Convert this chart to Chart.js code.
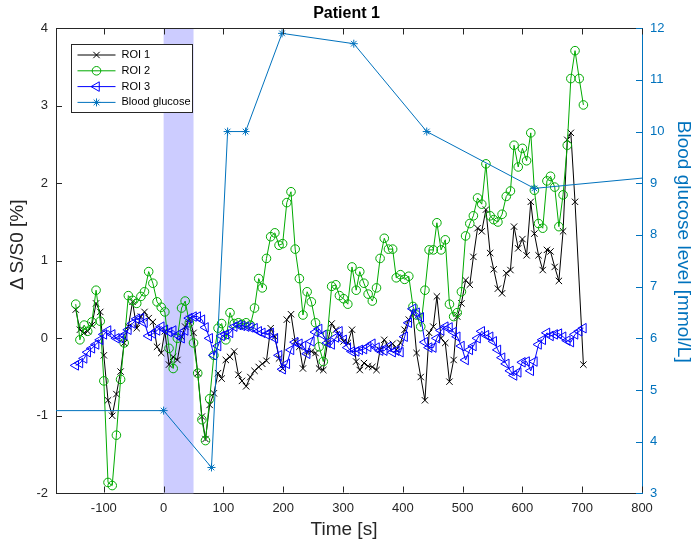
<!DOCTYPE html>
<html><head><meta charset="utf-8">
<script src="https://cdn.jsdelivr.net/npm/chart.js@4.4.1/dist/chart.umd.min.js"></script>
<style>html,body{margin:0;padding:0;background:#fff}</style>
</head><body>
<canvas id="c" width="693" height="548" style="width:693px;height:548px;display:block"></canvas>
<script>
// ---- data ----
const timeS = [-147,-140,-133,-127,-120,-113,-106,-100,-93,-86,
 -79,-72,-66,-59,-52,-45,-38,-32,-25,-18,
 -11,-4,2,9,16,23,30,36,43,50,
 57,64,70,77,84,91,97,104,111,118,
 125,131,138,145,152,159,165,172,179,186,
 193,199,206,213,220,227,233,240,247,254,
 260,267,274,281,288,294,301,308,315,322,
 328,335,342,349,356,362,369,376,383,389,
 396,403,410,417,423,430,437,444,451,457,
 464,471,478,485,491,498,505,512,518,525,
 532,539,546,552,559,566,573,580,586,593,
 600,607,614,620,627,634,641,647,654,661,
 668,675,681,688,695,702];
const roi1 = [0.37,0.11,0.07,0.09,0.17,0.45,0.34,-0.22,-0.80,-1.00,
 -0.72,-0.43,-0.06,0.15,0.47,0.13,0.28,0.34,0.26,0.21,
 -0.11,-0.19,0.09,-0.34,-0.24,-0.28,0.02,0.15,0.25,0.07,
 -0.45,-1.01,-1.30,-0.86,-0.71,-0.45,-0.52,-0.28,-0.24,-0.17,
 -0.47,-0.55,-0.62,-0.50,-0.42,-0.37,-0.33,-0.29,0.13,0.02,
 -0.26,-0.39,0.24,0.31,-0.04,-0.11,-0.39,-0.17,-0.17,-0.19,
 -0.39,-0.41,-0.06,0.19,0.11,0.04,-0.04,-0.06,0.11,-0.30,
 -0.41,-0.32,-0.36,-0.37,-0.41,-0.15,-0.02,-0.11,-0.07,-0.15,
 -0.06,0.11,0.24,0.32,-0.19,-0.50,-0.80,0.07,0.15,0.54,
 0.00,-0.06,-0.56,-0.28,0.28,0.45,0.75,0.69,1.05,1.42,
 1.38,1.66,1.10,0.89,0.64,0.58,0.84,0.88,1.44,1.16,
 1.28,1.07,1.76,1.35,1.07,0.88,1.14,1.12,0.92,0.74,
 1.38,2.56,2.65,1.76,null,-0.34];
const roi2 = [0.44,-0.02,0.17,0.09,0.21,0.62,0.22,-0.55,-1.86,-1.90,
 -1.25,-0.53,-0.06,0.55,0.49,0.45,0.54,0.60,0.86,0.71,
 0.47,0.40,0.34,-0.13,-0.39,0.00,0.39,0.48,0.20,-0.06,
 -0.45,-1.05,-1.32,-0.78,-0.22,0.13,0.19,-0.02,0.33,0.19,
 0.20,0.18,0.20,0.17,0.39,0.77,0.65,1.03,1.31,1.36,
 1.20,1.22,1.75,1.89,1.15,0.77,0.30,0.60,0.47,0.20,
 -0.11,-0.30,0.05,0.67,0.69,0.55,0.51,0.44,0.92,0.62,
 0.86,0.71,0.57,0.48,0.65,1.03,1.29,1.15,1.15,0.78,
 0.82,0.76,0.80,0.41,0.30,0.15,0.62,1.14,1.14,1.49,
 1.14,1.27,0.44,0.28,0.33,0.60,1.32,1.48,1.58,1.81,
 1.73,2.25,1.58,1.53,1.50,1.60,1.83,1.90,2.49,2.21,
 2.45,2.29,2.65,1.91,1.48,1.42,2.03,2.09,1.95,1.44,
 1.85,2.49,3.35,3.71,3.35,3.01];
const roi3 = [-0.35,-0.32,-0.26,-0.18,-0.13,-0.08,-0.02,0.05,0.10,0.05,
 0.00,0.00,0.04,0.11,0.19,0.25,0.26,0.20,0.03,0.06,
 0.10,0.15,0.11,0.08,0.10,0.04,0.00,0.10,0.26,0.28,
 0.28,0.24,0.14,0.00,-0.22,-0.10,0.03,0.05,0.07,0.15,
 0.17,0.16,0.15,0.14,0.13,0.09,0.07,0.05,0.07,0.00,
 -0.22,-0.40,-0.33,-0.15,-0.05,-0.07,-0.10,-0.20,-0.04,0.08,
 0.12,0.04,-0.06,-0.08,0.01,0.09,-0.02,-0.12,-0.17,-0.17,
 -0.15,-0.14,-0.11,-0.07,-0.12,-0.16,-0.16,-0.11,-0.18,-0.16,
 -0.18,0.02,0.20,0.38,0.33,0.27,-0.05,-0.12,-0.12,0.00,
 0.10,0.15,0.14,0.08,0.02,-0.10,-0.28,-0.15,-0.10,0.00,
 0.09,0.04,0.02,-0.04,-0.15,-0.25,-0.33,-0.42,-0.48,-0.44,
 -0.31,-0.30,-0.42,-0.30,-0.08,-0.02,0.07,0.03,0.05,0.06,
 0.02,-0.03,-0.05,0.05,0.09,0.13];
const glucoseTime = [-300,0,80,107,137,198,318,440,620,900];
const glucoseLevel = [4.6,4.6,3.5,10.0,10.0,11.9,11.7,10.0,8.9,9.21];
const xTicks = [-100,0,100,200,300,400,500,600,700,800];
const yTicks = [-2,-1,0,1,2,3,4];
const y2Ticks = [3,4,5,6,7,8,9,10,11,12];
const stimulusWindow = [0,50];
const seriesNames = ['ROI 1','ROI 2','ROI 3','Blood glucose'];
const axisTitles = { x: 'Time [s]', y: 'Δ\u2009S/S0 [%]', y2: 'Blood glucose level [mmol/L]' };

// ---- styles ----
const FONT = "'Liberation Sans', Arial, Helvetica, sans-serif";
const AX = '#262626';
const BLUE = '#0072BD';
const GREEN = 'rgb(0,170,0)';

const pairs = (xs, ys) => xs.map((x,i)=>({x, y: ys[i]}));
const setTicks = arr => s => { s.ticks = arr.map(v=>({value:v})); };

const framePlugin = {
  id: 'frame',
  beforeDatasetsDraw(chart){
    const {ctx, chartArea:a, scales:{x}} = chart;
    const x0 = x.getPixelForValue(stimulusWindow[0]);
    const x1 = x.getPixelForValue(stimulusWindow[1]);
    ctx.save();
    ctx.fillStyle = 'rgb(204,204,255)';
    ctx.fillRect(x0, a.top, x1-x0, a.bottom-a.top);
    ctx.restore();
  },
  afterDatasetsDraw(chart){
    const {ctx, chartArea:a, scales:{x, y, y2}} = chart;
    const L = 6;
    ctx.save();
    ctx.lineWidth = 1;
    ctx.strokeStyle = AX;
    ctx.beginPath();
    const top = Math.round(a.top)+0.5, bot = Math.round(a.bottom)-0.5;
    ctx.moveTo(a.left, top); ctx.lineTo(a.right, top);
    x.ticks.forEach(t=>{
      const px = Math.round(x.getPixelForValue(t.value))+0.5;
      ctx.moveTo(px, bot); ctx.lineTo(px, bot-L);
      ctx.moveTo(px, top); ctx.lineTo(px, top+L);
    });
    y.ticks.forEach(t=>{
      const py = Math.round(y.getPixelForValue(t.value))+0.5;
      ctx.moveTo(a.left, py); ctx.lineTo(a.left+L, py);
    });
    ctx.stroke();
    ctx.strokeStyle = BLUE;
    ctx.beginPath();
    y2.ticks.forEach(t=>{
      const py = Math.round(y2.getPixelForValue(t.value))+0.5;
      ctx.moveTo(a.right, py); ctx.lineTo(a.right-L, py);
    });
    ctx.stroke();
    ctx.restore();
  },
  afterDraw(chart){
    const {ctx, chartArea:a} = chart;
    // axis titles
    ctx.save();
    ctx.font = '19px ' + FONT;
    ctx.textAlign = 'center'; ctx.textBaseline = 'middle';
    ctx.fillStyle = AX;
    ctx.fillText(axisTitles.x, (a.left+a.right)/2 - 5, 530);
    ctx.save(); ctx.translate(18, (a.top+a.bottom)/2 - 16); ctx.rotate(-Math.PI/2);
    ctx.fillText(axisTitles.y, 0, 0); ctx.restore();
    ctx.fillStyle = BLUE;
    ctx.save(); ctx.translate(683, (a.top+a.bottom)/2 - 19); ctx.rotate(Math.PI/2);
    ctx.fillText(axisTitles.y2, 0, 0); ctx.restore();
    ctx.restore();
    // legend
    const bx = Math.round(a.left+14.7)+0.5, by = Math.round(a.top+15.7)+0.5;
    const bw = 121, bh = 68;
    ctx.save();
    ctx.fillStyle = '#fff';
    ctx.fillRect(bx, by, bw, bh);
    ctx.strokeStyle = AX; ctx.lineWidth = 1;
    ctx.strokeRect(bx, by, bw, bh);
    chart.data.datasets.forEach((ds,i)=>{
      const ly = by + 10.5 + i*15.8;
      ctx.strokeStyle = ds.borderColor; ctx.lineWidth = 1;
      ctx.beginPath(); ctx.moveTo(bx+6, ly); ctx.lineTo(bx+44, ly); ctx.stroke();
      ctx.fillStyle = 'rgba(0,0,0,0)';
      Chart.helpers.drawPoint(ctx, {pointStyle: ds.pointStyle, radius: ds.pointRadius, rotation: ds.pointRotation||0, borderWidth: 1}, bx+25, ly);
      ctx.fillStyle = '#000';
      ctx.font = '11px ' + FONT;
      ctx.textBaseline = 'middle'; ctx.textAlign = 'left';
      ctx.fillText(seriesNames[i], bx+50, ly);
    });
    ctx.restore();
  }
};

const lineDs = (label, xs, ys, color, style, r, axis, order, rot) => ({
  label, data: pairs(xs, ys), yAxisID: axis, order,
  borderColor: color, borderWidth: 1, backgroundColor: 'rgba(0,0,0,0)',
  pointStyle: style, pointRadius: r, pointRotation: rot||0,
  pointBorderColor: color, pointBackgroundColor: 'rgba(0,0,0,0)', pointBorderWidth: 1,
  pointHoverRadius: r, tension: 0, fill: false, spanGaps: true
});

new Chart(document.getElementById('c'), {
  type: 'line',
  data: { datasets: [
    lineDs(seriesNames[0], timeS, roi1, '#000000', 'crossRot', 4.5, 'y', 4),
    lineDs(seriesNames[1], timeS, roi2, GREEN, 'circle', 4.3, 'y', 3),
    lineDs(seriesNames[2], timeS, roi3, '#0000FF', 'triangle', 5.5, 'y', 2, -90),
    lineDs(seriesNames[3], glucoseTime, glucoseLevel, BLUE, 'star', 4, 'y2', 1)
  ]},
  options: {
    responsive: false, animation: false, devicePixelRatio: 1,
    layout: { padding: 0 },
    events: [],
    plugins: {
      legend: { display: false }, tooltip: { enabled: false },
      title: { display: true, text: 'Patient 1', color: '#000',
        font: { family: FONT, size: 16, weight: 'bold' }, padding: { top: 4, bottom: 5 } }
    },
    scales: {
      x: { type: 'linear', position: 'bottom', min: -180, max: 800,
        afterBuildTicks: setTicks(xTicks), afterFit: s => { s.height = 54.7; },
        grid: { display: false, drawTicks: false },
        border: { display: true, color: AX, width: 1 },
        ticks: { color: AX, font: { family: FONT, size: 13 }, padding: 7, maxRotation: 0, autoSkip: false },
        title: { display: false } },
      y: { type: 'linear', position: 'left', min: -2, max: 4,
        afterBuildTicks: setTicks(yTicks), afterFit: s => { s.width = 56; },
        grid: { display: false, drawTicks: false },
        border: { display: true, color: AX, width: 1 },
        ticks: { color: AX, font: { family: FONT, size: 13 }, padding: 8 },
        title: { display: false } },
      y2: { type: 'linear', position: 'right', min: 3, max: 12,
        afterBuildTicks: setTicks(y2Ticks), afterFit: s => { s.width = 51; },
        grid: { display: false, drawTicks: false },
        border: { display: true, color: BLUE, width: 1 },
        ticks: { color: BLUE, font: { family: FONT, size: 13 }, padding: 8 },
        title: { display: false } }
    }
  },
  plugins: [framePlugin]
});
</script>
</body></html>
